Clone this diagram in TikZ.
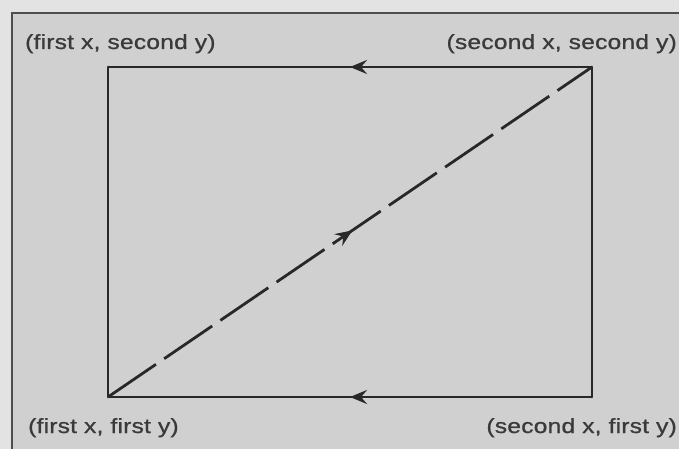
\documentclass[tikz,border=0pt]{standalone}
\usepackage{fontspec}
\setmainfont{Liberation Sans}[FakeStretch=1.2, FakeBold=0.9, LetterSpace=1]
\usetikzlibrary{arrows.meta,decorations.markings}
\definecolor{paper}{HTML}{D0D0D0}
\definecolor{outer}{HTML}{E3E3E3}
\definecolor{ink}{HTML}{282828}
\definecolor{textink}{HTML}{3A3A3A}
\definecolor{framecol}{HTML}{4E4E4E}
\tikzset{
  edge/.style={draw=ink, line width=2.8pt},
  midarrow/.style={postaction={decorate},
    decoration={markings, mark=at position #1 with {\arrow[ink]{Stealth[length=17pt,width=14pt,inset=6pt]}}}},
  lbl/.style={font=\fontsize{20.5}{24}\selectfont, text=textink, inner sep=0pt},
}
\begin{document}
\begin{tikzpicture}[x=1pt,y=-1pt]
  \useasboundingbox (0,0) rectangle (679,449);
  \fill[outer] (0,0) rectangle (679,449);
  \begin{scope}
    \clip (0,0) rectangle (679,449);
    \fill[paper] (12,13) rectangle (700,470);
    \draw[framecol, line width=2.6pt] (12,13) rectangle (700,470);
  \end{scope}
  \coordinate (A) at (108,397);
  \coordinate (B) at (592,397);
  \coordinate (C) at (592,67);
  \coordinate (D) at (108,67);
  \draw[edge, line cap=round] (D) -- (A);
  \draw[edge, line cap=round] (B) -- (C);
  \draw[edge, midarrow=0.5] (C) -- (D);
  \draw[edge, midarrow=0.5] (B) -- (A);
  \draw[edge, dash pattern=on 58pt off 10pt, midarrow=0.505] (A) -- (C);
  \node[lbl, anchor=base west] (tl) at (25,49) {(first x, second y)};
  \node[lbl, anchor=base east] (tr) at (677,49) {(second x, second y)};
  \node[lbl, anchor=base west] (bl) at (28,433) {(first x, first y)};
  \node[lbl, anchor=base east] (br) at (677,433) {(second x, first y)};
\end{tikzpicture}
\end{document}
